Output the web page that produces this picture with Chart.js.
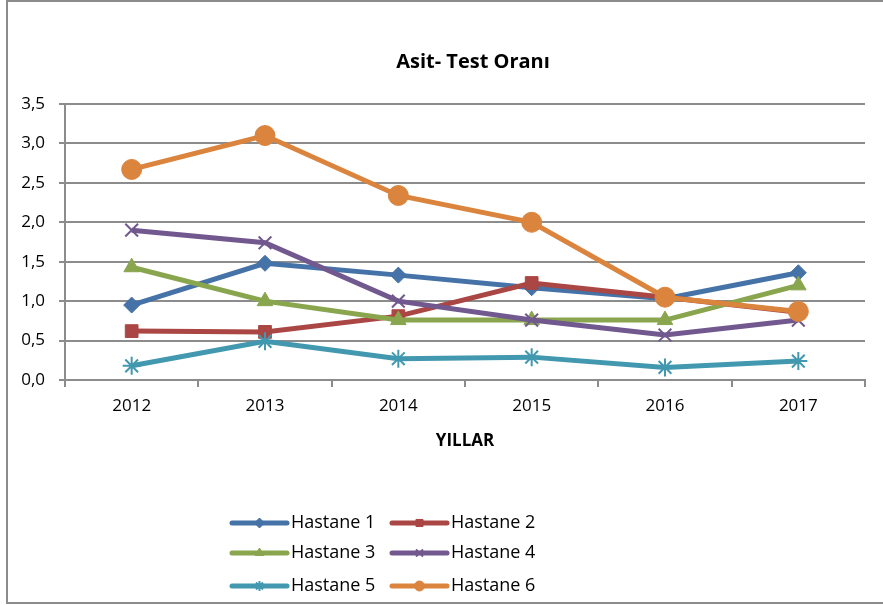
<!DOCTYPE html>
<html>
<head>
<meta charset="utf-8">
<script src="https://cdn.jsdelivr.net/npm/chart.js@4/dist/chart.umd.min.js"></script>
<style>
  html, body { margin: 0; padding: 0; background: #fff; }
  #wrap { width: 883px; height: 605px; }
</style>
</head>
<body>
<div id="wrap"><canvas id="grafico" width="883" height="605"></canvas></div>
<script>
// dados
const anos = ['2012', '2013', '2014', '2015', '2016', '2017'];
const hastane1 = [0.95, 1.48, 1.33, 1.17, 1.03, 1.36];
const hastane2 = [0.62, 0.61, 0.81, 1.23, 1.05, 0.86];
const hastane3 = [1.43, 1.00, 0.76, 0.76, 0.76, 1.20];
const hastane4 = [1.90, 1.74, 1.00, 0.76, 0.57, 0.76];
const hastane5 = [0.18, 0.49, 0.27, 0.29, 0.16, 0.24];
const hastane6 = [2.67, 3.10, 2.34, 2.00, 1.05, 0.87];
const nomes = ['Hastane 1', 'Hastane 2', 'Hastane 3', 'Hastane 4', 'Hastane 5', 'Hastane 6'];
const titulo = 'Asit- Test Oranı';
const cores = ['#4572A7', '#AA4643', '#89A54E', '#71588F', '#4198AF', '#DB843D'];
const marcadores = ['rectRot', 'rect', 'triangle', 'crossRot', 'star', 'circle'];
const raios = [8, 9, 9, 9, 9, 10];

const fonte = '"Open Sans", "Liberation Sans", sans-serif';
const series = [hastane1, hastane2, hastane3, hastane4, hastane5, hastane6];

const datasets = series.map((valores, i) => ({
    label: nomes[i],
    data: valores,
    borderColor: cores[i],
    backgroundColor: cores[i],
    borderWidth: 5,
    pointStyle: marcadores[i],
    pointRadius: raios[i],
    pointBackgroundColor: cores[i],
    pointBorderColor: cores[i],
    pointBorderWidth: (marcadores[i] === 'crossRot' || marcadores[i] === 'star') ? 2 : 1,
    tension: 0,
    order: 6 - i
}));

// moldura cinza + título centrado sobre a área do gráfico
const moldura = {
    id: 'moldura',
    beforeDraw(chart) {
        const ctx = chart.ctx;
        ctx.save();
        ctx.strokeStyle = '#8c8c8c';
        ctx.lineWidth = 2;
        ctx.beginPath();
        ctx.moveTo(887, 1);
        ctx.lineTo(7, 1);
        ctx.lineTo(7, 603);
        ctx.lineTo(887, 603);
        ctx.stroke();

        ctx.fillStyle = '#000';
        ctx.font = 'bold 20px ' + fonte;
        ctx.textAlign = 'center';
        ctx.textBaseline = 'middle';
        ctx.fillText(titulo, 473, 62);
        ctx.restore();
    }
};

// legenda em duas colunas, como no Excel
const legenda = {
    id: 'legendaExcel',
    afterDraw(chart) {
        const ctx = chart.ctx;
        const colX = [232, 392];
        const linhaY = [523, 553, 586];
        ctx.save();
        chart.data.datasets.forEach((ds, i) => {
            const x = colX[i % 2];
            const y = linhaY[Math.floor(i / 2)];
            ctx.strokeStyle = ds.borderColor;
            ctx.lineWidth = 5;
            ctx.lineCap = 'round';
            ctx.beginPath();
            ctx.moveTo(x, y);
            ctx.lineTo(x + 55, y);
            ctx.stroke();
            ctx.lineCap = 'butt';
            if (Chart.helpers && Chart.helpers.drawPoint) {
                ctx.fillStyle = ds.borderColor;
                ctx.lineWidth = ds.pointBorderWidth;
                Chart.helpers.drawPoint(ctx, {
                    pointStyle: ds.pointStyle,
                    radius: 5,
                    borderWidth: ds.pointBorderWidth,
                    rotation: 0
                }, x + 27.5, y);
            }
            ctx.fillStyle = '#000';
            ctx.font = '18px ' + fonte;
            ctx.textBaseline = 'middle';
            ctx.textAlign = 'left';
            ctx.fillText(ds.label, x + 59, y);
        });
        ctx.restore();
    }
};

new Chart(document.getElementById('grafico'), {
    type: 'line',
    data: { labels: anos, datasets: datasets },
    options: {
        responsive: false,
        animation: false,
        layout: { padding: { left: 0, right: 18, top: 104, bottom: 150 } },
        plugins: {
            legend: { display: false },
            tooltip: { enabled: false },
            title: { display: false }
        },
        scales: {
            x: {
                offset: true,
                afterFit: (s) => { s.height = 75; },
                grid: {
                    offset: true,
                    drawOnChartArea: false,
                    drawTicks: true,
                    tickLength: 7,
                    color: '#8c8c8c',
                    lineWidth: 2
                },
                border: { color: '#8c8c8c', width: 2 },
                ticks: { color: '#000', padding: 9, font: { family: fonte, size: 17 } },
                title: {
                    display: true,
                    text: 'YILLAR',
                    color: '#000',
                    font: { family: fonte, size: 17, weight: 'bold' },
                    padding: { top: 10, bottom: 4 }
                }
            },
            y: {
                min: 0,
                max: 3.5,
                afterFit: (s) => { s.width = 65; },
                grid: {
                    color: '#8c8c8c',
                    lineWidth: 2,
                    drawTicks: true,
                    tickLength: 6
                },
                border: { color: '#8c8c8c', width: 2 },
                ticks: {
                    stepSize: 0.5,
                    color: '#000',
                    padding: 14,
                    font: { family: fonte, size: 17 },
                    callback: (v) => v.toFixed(1).replace('.', ',')
                }
            }
        }
    },
    plugins: [moldura, legenda]
});
</script>
</body>
</html>
